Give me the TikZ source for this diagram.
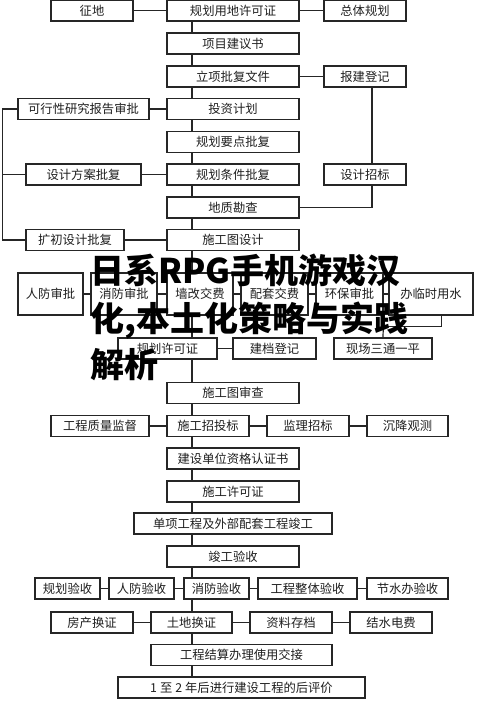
\documentclass[tikz,border=0pt]{standalone}
\usepackage{fontspec}
\setmainfont{Noto Sans CJK SC}
\usetikzlibrary{calc}
\begin{document}
\begin{tikzpicture}[x=1pt,y=-1pt,
  box/.style={draw=black!85, line width=1.2pt, inner sep=0pt, minimum height=21pt,
    font=\fontsize{12.3}{14}\selectfont, text=black!88},
  bw/.style={minimum width=#1pt},
  tall/.style={minimum height=42pt},
  ln/.style={draw=black!85, line width=1.2pt},
  overlay text/.style={anchor=base west, inner sep=0pt, text=black,
    font=\fontsize{34}{40}\selectfont\bfseries}]
\useasboundingbox[fill=white] (0,0) rectangle (500,701);
\coordinate (sp) at (192,0);
\coordinate (rx) at (372,0);
\coordinate (lb) at (2.5,0);
% top section
\node[box,bw=82]  (zd)   at (92,10.5)   {征地};
\node[box,bw=132] (gh)   at (233,10.5)  {规划用地许可证};
\node[box,bw=82]  (ztgh) at (365,10.5)  {总体规划};
\node[box,bw=132] (xm)   at (233,43.5)  {项目建议书};
\node[box,bw=132] (lx)   at (233,76.5)  {立项批复文件};
\node[box,bw=82]  (bj)   at (365,76.5)  {报建登记};
\node[box,bw=132] (tz)   at (233,109)   {投资计划};
\node[box,bw=131] (kx)   at (83.5,109)  {可行性研究报告审批};
\node[box,bw=132] (ghyd) at (233,142)   {规划要点批复};
\node[box,bw=132] (ghtj) at (233,174.5) {规划条件批复};
\node[box,bw=115] (sjfa) at (83.5,174.5){设计方案批复};
\node[box,bw=82]  (sjzb) at (365,174.5) {设计招标};
\node[box,bw=132] (dz)   at (233,207.5) {地质勘查};
\node[box,bw=132] (sgt)  at (233,240)   {施工图设计};
\node[box,bw=98]  (kc)   at (75,240)    {扩初设计批复};
% approvals row
\node[box,tall,bw=65] (rf)  at (50.5,294) {人防审批};
\node[box,tall,bw=66] (xf)  at (124,294)  {消防审批};
\node[box,tall,bw=66] (qg)  at (200,294)  {墙改交费};
\node[box,tall,bw=67] (pt)  at (274.5,294){配套交费};
\node[box,tall,bw=67] (hb)  at (349.5,294){环保审批};
\node[box,tall,bw=84] (bls) at (431,294)  {办临时用水};
\node[box,bw=99] (ghxk) at (167.5,348.5) {规划许可证};
\node[box,bw=83] (jd)   at (274.5,348.5) {建档登记};
\node[box,bw=98] (xc)   at (383,348.5)   {现场三通一平};
% construction
\node[box,bw=132] (sgsc) at (233,393)   {施工图审查};
\node[box,bw=82]  (sgzb) at (208,426)   {施工招投标};
\node[box,bw=98]  (zljd) at (100,426)   {工程质量监督};
\node[box,bw=82]  (jlzb) at (308,426)   {监理招标};
\node[box,bw=81]  (cj)   at (407.5,426) {沉降观测};
\node[box,bw=132] (jsdw) at (233,458.5) {建设单位资格认证书};
\node[box,bw=132] (sgxk) at (233,491.5) {施工许可证};
\node[box,bw=198] (dx)   at (233,523.5) {单项工程及外部配套工程竣工};
\node[box,bw=132] (jg)   at (233,556.5) {竣工验收};
\node[box,bw=65] (ghys) at (67.5,588.5)  {规划验收};
\node[box,bw=65] (rfys) at (141.5,588.5) {人防验收};
\node[box,bw=65] (xfys) at (216.5,588.5) {消防验收};
\node[box,bw=99] (gczt) at (307.5,588.5) {工程整体验收};
\node[box,bw=81] (jsb)  at (407.5,588.5) {节水办验收};
\node[box,bw=82] (fc)   at (92,622.5)    {房产换证};
\node[box,bw=81] (td)   at (191.5,622.5) {土地换证};
\node[box,bw=82] (zl)   at (291,622.5)   {资料存档};
\node[box,bw=82] (sd)   at (391,622.5)   {结水电费};
\node[box,bw=181] (js)  at (241.5,655)   {工程结算办理使用交接};
\node[box,bw=247] (hp)  at (241.5,687.5) {1\hspace{3pt}至\hspace{3pt}2\hspace{3pt}年后进行建设工程的后评价};
% connectors: spine
\foreach \a/\b in {gh/xm,xm/lx,lx/tz,tz/ghyd,ghyd/ghtj,ghtj/dz,dz/sgt,sgt/qg,qg/ghxk,ghxk/sgsc,
  sgsc/sgzb,sgzb/jsdw,jsdw/sgxk,sgxk/dx,dx/jg,jg/xfys,xfys/td,td/js,js/hp}
  \draw[ln] (\a.south -| sp) -- (\b.north -| sp);
% horizontal links
\foreach \a/\b in {zd/gh,gh/ztgh,lx/bj,kx/tz,sjfa/ghtj,kc/sgt,rf/xf,xf/qg,qg/pt,pt/hb,hb/bls,
  ghxk/jd,zljd/sgzb,sgzb/jlzb,jlzb/cj,ghys/rfys,rfys/xfys,xfys/gczt,gczt/jsb,fc/td,td/zl,zl/sd}
  \draw[ln] (\a.east) -- (\b.west);
% right side
\draw[ln] (bj.south -| rx) -- (sjzb.north -| rx);
\draw[ln] (sjzb.south -| rx) |- (dz.east);
% left bus
\draw[ln] (kx.west) -- (kx.west -| lb) -- (kc.west -| lb) -- (kc.west);
\draw[ln] (sjfa.west -| lb) -- (sjfa.west);
% to site preparation
\draw[ln] (hb.south east) -- (xc.north);
\draw[ln] ($(bls.south west)!0.62!(bls.south east)$) |- ($(hb.south east)!0.5!(xc.north)$);
% overlay title
\node[overlay text] (t1) at (90,283) {日系RPG手机游戏汉};
\node[overlay text] (t2) at (90,331) {化,本土化策略与实践};
\node[overlay text] (t3) at (90,377) {解析};
\end{tikzpicture}
\end{document}
